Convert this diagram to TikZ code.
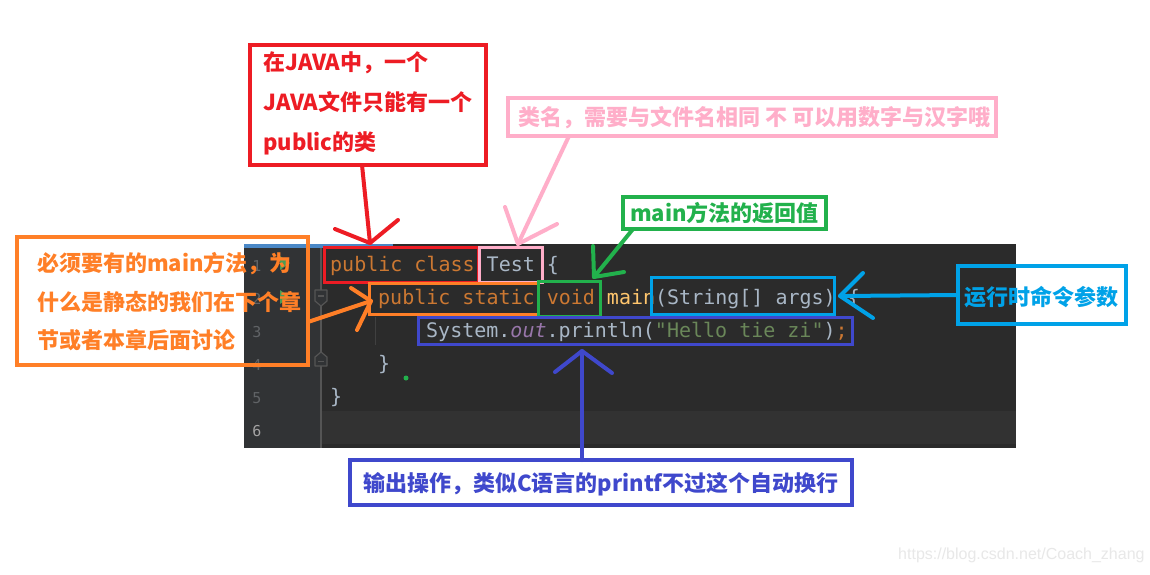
\documentclass[tikz,border=0pt]{standalone}
\usepackage{fontspec}
\newfontfamily\cjk{Noto Sans CJK SC}
\newfontfamily\codefnt{DejaVu Sans Mono}
\newfontfamily\wmfont{Liberation Sans}
\definecolor{cRed}{HTML}{ED1C24}
\definecolor{cPink}{HTML}{FFAEC9}
\definecolor{cOrange}{HTML}{FF7F27}
\definecolor{cGreen}{HTML}{22B14C}
\definecolor{cCyan}{HTML}{00A2E8}
\definecolor{cIndigo}{HTML}{3F48CC}
\definecolor{cPanel}{HTML}{2B2B2B}
\definecolor{cGutter}{HTML}{313335}
\definecolor{cCurLine}{HTML}{323232}
\definecolor{cSep}{HTML}{555555}
\definecolor{cTab}{HTML}{4A88C7}
\definecolor{cKw}{HTML}{CC7832}
\definecolor{cId}{HTML}{A9B7C6}
\definecolor{cFn}{HTML}{FFC66D}
\definecolor{cPu}{HTML}{9876AA}
\definecolor{cStr}{HTML}{6A8759}
\definecolor{cLn}{HTML}{606366}
\definecolor{cLnCur}{HTML}{A4A3A3}
\definecolor{cRun}{HTML}{499C54}
\tikzset{
  annbox/.style={draw=#1, line width=4pt, anchor=north west, inner sep=0pt, outer sep=0pt},
  hlbox/.style={draw=#1, line width=3pt, anchor=north west, inner sep=0pt, outer sep=0pt},
  annlbl/.style={anchor=base west, inner sep=0pt, text=#1, font=\cjk\bfseries\fontsize{22}{26}\selectfont},
  codetxt/.style={anchor=base west, inner sep=0pt, font=\codefnt\fontsize{20}{24}\selectfont},
  lnum/.style={anchor=base, inner sep=0pt, text=cLn, font=\codefnt\fontsize{15}{18}\selectfont},
  hand/.style={draw=#1, line width=4pt, line cap=round, line join=round},
  foldmark/.style={draw=cSep, fill=cGutter, line width=1.2pt, line join=round},
}
\begin{document}
\begin{tikzpicture}[x=1pt,y=-1pt]
\useasboundingbox (0,0) rectangle (1150,574);
\fill[white] (0,0) rectangle (1150,574);

% ---- editor panel ----
\fill[cPanel] (244,244) rectangle (1016,448);
\fill[cGutter] (244,244) rectangle (321,448);
\fill[cCurLine] (322,411) rectangle (1016,444);
\fill[cTab] (244,244) rectangle (393,247.5);
\draw[cSep, line width=1.2pt] (321,247.5) -- (321,448);
\draw[black!75!white, line width=1pt] (375,317) -- (375,345);

% line numbers
\node[lnum] (n1) at (257,271) {1};
\node[lnum] (n2) at (257,304) {2};
\node[lnum] (n3) at (257,337) {3};
\node[lnum] (n4) at (257,370) {4};
\node[lnum] (n5) at (257,403) {5};
\node[lnum, text=cLnCur] (n6) at (257,436) {6};

% run icons and fold markers
\fill[cRun] (280,256) -- (290,263) -- (280,270) -- cycle;
\fill[cRun] (280,290) -- (290,297) -- (280,304) -- cycle;
\draw[foldmark] (315,290) -- (327,290) -- (327,301) -- (321,306) -- (315,301) -- cycle;
\draw[cSep, line width=1.2pt] (318,296) -- (324,296);
\draw[foldmark] (315,366) -- (327,366) -- (327,357) -- (321,352) -- (315,357) -- cycle;
\draw[cSep, line width=1.2pt] (318,361.5) -- (324,361.5);
\fill[cGreen] (406,378) circle (2.5);

% code
\node[codetxt] (c1) at (330,271) {\textcolor{cKw}{public class} \textcolor{cId}{Test \{}};
\node[codetxt] (c2) at (378,304) {\textcolor{cKw}{public static void} \textcolor{cFn}{main}\textcolor{cId}{(String[] args) \{}};
\node[codetxt] (c3) at (426,337) {\textcolor{cId}{System.}\textcolor{cPu}{\itshape out}\textcolor{cId}{.println(}\textcolor{cStr}{"Hello tie zi"}\textcolor{cId}{)}\textcolor{cKw}{;}};
\node[codetxt] (c4) at (378,370) {\textcolor{cId}{\}}};
\node[codetxt] (c5) at (330,403) {\textcolor{cId}{\}}};

% highlight boxes on code
\node[hlbox=cRed, minimum width=154pt, minimum height=35pt] (redc) at (324,247) {};
\node[hlbox=cPink, minimum width=63pt, minimum height=35pt] (pinkc) at (479,247) {};
\node[hlbox=cOrange, minimum width=169pt, minimum height=31pt] (orangec) at (369,283) {};
\node[hlbox=cGreen, minimum width=62pt, minimum height=35pt] (greenc) at (538,281) {};
\node[hlbox=cCyan, minimum width=183pt, minimum height=37pt] (cyanc) at (651,277) {};
\node[hlbox=cIndigo, minimum width=434pt, minimum height=27pt] (indigoc) at (418,317) {};

% ---- annotation boxes ----
\node[annbox=cRed, minimum width=236pt, minimum height=120pt] (redbox) at (250,45) {};
\node[annlbl=cRed] (redt1) at (263,70) {在JAVA中，一个};
\node[annlbl=cRed] (redt2) at (263,110) {JAVA文件只能有一个};
\node[annlbl=cRed] (redt3) at (263,150) {public的类};

\node[annbox=cPink, minimum width=488pt, minimum height=38pt] (pinkbox) at (508,98) {};
\node[annlbl=cPink] (pinkt) at (518,125) {类名，需要与文件名相同 不 可以用数字与汉字哦};

\node[annbox=cGreen, minimum width=203pt, minimum height=32pt] (greenbox) at (623,197) {};
\node[annlbl=cGreen] (greent) at (630,221) {main方法的返回值};

\node[annbox=cOrange, minimum width=291pt, minimum height=128pt] (orangebox) at (17,237) {};
\node[annlbl=cOrange] (oranget1) at (37,271) {必须要有的main方法，为};
\node[annlbl=cOrange] (oranget2) at (37,310) {什么是静态的我们在下个章};
\node[annlbl=cOrange] (oranget3) at (37,348) {节或者本章后面讨论};

\node[annbox=cCyan, minimum width=168pt, minimum height=58pt] (cyanbox) at (958,266) {};
\node[annlbl=cCyan] (cyant) at (964,305) {运行时命令参数};

\node[annbox=cIndigo, minimum width=502pt, minimum height=45pt] (indigobox) at (350,460) {};
\node[annlbl=cIndigo] (indigot) at (363,491) {输出操作，类似C语言的printf不过这个自动换行};

% ---- hand-drawn arrows ----
\coordinate (redtip) at (370,243);
\coordinate (redbl) at (335,229);
\coordinate (redbr) at (398,220);
\draw[hand=cRed] ([xshift=-6pt]redbox.south) -- (redtip);
\draw[hand=cRed] (redbl) -- (redtip) -- (redbr);

\coordinate (pinktip) at (518,244);
\coordinate (pinkbl) at (505,207);
\coordinate (pinkbr) at (557,224);
\draw[hand=cPink] ([xshift=61pt]pinkbox.south west) -- (pinktip);
\draw[hand=cPink] (pinkbl) -- (pinktip) -- (pinkbr);

\coordinate (greentip) at (594,277);
\coordinate (greenbl) at (593,246);
\coordinate (greenbr) at (624,272);
\draw[hand=cGreen] ([xshift=10pt]greenbox.south west) -- (greentip);
\draw[hand=cGreen] (greenbl) -- (greentip) -- (greenbr);

\coordinate (orangetip) at (371,301);
\coordinate (orangebl) at (351,288);
\coordinate (orangebr) at (357,330);
\draw[hand=cOrange] ([yshift=-21pt]orangebox.east) -- (orangetip);
\draw[hand=cOrange] (orangebl) -- (orangetip) -- (orangebr);

\coordinate (cyantip) at (840,296);
\coordinate (cyanbl) at (863,273);
\coordinate (cyanbr) at (873,318);
\draw[hand=cCyan] (cyanbox.west) -- (cyantip);
\draw[hand=cCyan] (cyanbl) -- (cyantip) -- (cyanbr);

\coordinate (indigotip) at (582,351);
\coordinate (indigobl) at (555,372);
\coordinate (indigobr) at (612,373);
\draw[hand=cIndigo] ([xshift=-19pt]indigobox.north) -- (indigotip);
\draw[hand=cIndigo] (indigobl) -- (indigotip) -- (indigobr);

% watermark
\node[anchor=west, inner sep=0pt, text=black!9, font=\wmfont\fontsize{16}{19}\selectfont] (wm) at (898,555) {https://blog.csdn.net/Coach\_zhang};
\end{tikzpicture}
\end{document}
